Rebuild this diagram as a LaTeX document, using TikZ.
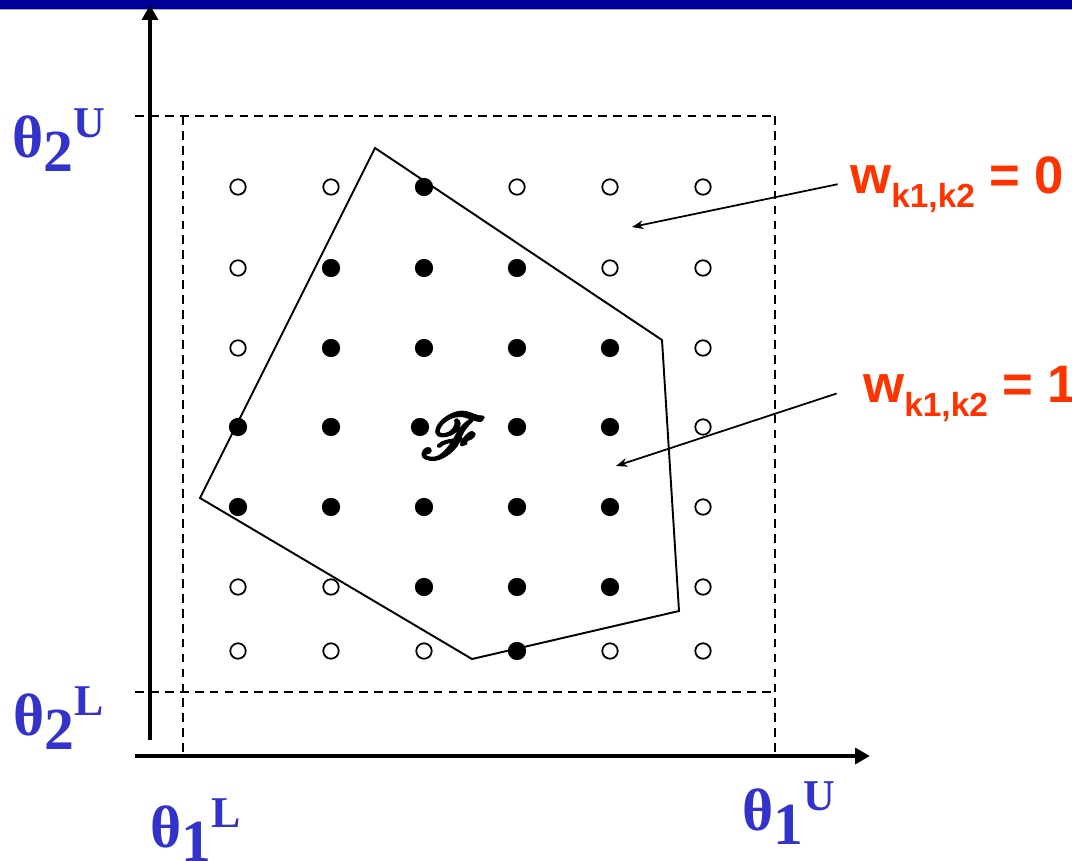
\documentclass[tikz,border=0pt]{standalone}
\usepackage{fontspec}
\setmainfont{Liberation Serif}
\setsansfont{Liberation Sans}
\usepackage{mathrsfs}
\usepackage{xcolor}
\usepackage{tikz}
\usetikzlibrary{arrows.meta,positioning}

\definecolor{barblue}{RGB}{0,0,153}
\definecolor{thblue}{RGB}{51,51,204}
\definecolor{wred}{RGB}{255,51,0}

\newcommand{\thlabel}[2]{\bfseries\fontsize{34}{34}\selectfont θ\raisebox{-8pt}{#1}\raisebox{11pt}{\fontsize{25}{25}\selectfont #2}}
\newcommand{\wlabel}[1]{\sffamily\bfseries\fontsize{30}{30}\selectfont w\raisebox{-8pt}{\fontsize{19}{19}\selectfont k1,k2} = #1}
\newcommand{\heavy}[1]{\special{pdf:literal direct 2 Tr 1.1 w}#1\special{pdf:literal direct 0 Tr}}

\begin{document}
\begin{tikzpicture}[x=0.02cm,y=-0.02cm,
  axis/.style={line width=2.3pt,-{Triangle[length=8.5pt,width=9pt]}},
  bound/.style={line width=0.85pt,dash pattern=on 5pt off 3.5pt},
  region/.style={line width=1.1pt,line join=miter},
  pointer/.style={line width=1pt,-{Stealth[length=6.5pt,width=5pt]}},
  thlab/.style={anchor=base west,inner sep=0pt,text=thblue},
  wlab/.style={anchor=base west,inner sep=0pt,text=wred}]
  \useasboundingbox (0,0) rectangle (1072,860);
  \fill[barblue] (0,0) rectangle (1072,8.5);
  \fill[barblue!35] (0,8.5) rectangle (1072,9.5);

  % box of bounds
  \draw[bound] (135,116)--(775,116);
  \draw[bound] (135,692)--(775,692);
  \draw[bound] (183,116)--(183,756);
  \draw[bound] (775,116)--(775,756);

  % axes
  \draw[axis] (150,740)--(150,5);
  \draw[axis] (135,756)--(870,756);

  % feasible region
  \draw[region] (375,148)--(662,340)--(679,611)--(472,659)--(200,498)--cycle;

  % grid points
  \foreach \p in {(238,187),(331,187),(517,187),(610,187),(703,187),
                  (238,268),(610,268),(703,268),
                  (238,348),(703,348),
                  (703,427),
                  (703,507),
                  (238,587),(331,587),(703,587),
                  (238,651),(331,651),(424,651),(610,651),(703,651)}
    \draw[line width=1pt] \p circle (4.4pt);
  \foreach \p in {(424,187),
                  (331,268),(424,268),(517,268),
                  (331,348),(424,348),(517,348),(610,348),
                  (238,427),(331,427),(420,427),(517,427),(610,427),
                  (238,507),(331,507),(424,507),(517,507),(610,507),
                  (424,587),(517,587),(610,587),
                  (517,651)}
    \fill \p circle (5.2pt);

  \node (F) at (453,436) {\fontsize{24.88}{30}\selectfont\scalebox{1.45}{\heavy{$\mathscr{F}$}}};

  % bound labels
  \node[thlab] (t2U) at (12,157) {\thlabel{2}{U}};
  \node[thlab] (t2L) at (13,735) {\thlabel{2}{L}};
  \node[thlab] (t1L) at (150,847) {\thlabel{1}{L}};
  \node[thlab] (t1U) at (742,830) {\thlabel{1}{U}};

  % weights
  \node[wlab] (w0) at (850,193) {\wlabel{0}};
  \node[wlab] (w1) at (863,402) {\wlabel{1}};
  \coordinate (p0) at (632,227);
  \coordinate (p1) at (616,466);
  \draw[pointer] ([xshift=-7pt]w0.west) -- (p0);
  \draw[pointer] ([xshift=-15pt]w1.west) -- (p1);
\end{tikzpicture}
\end{document}
